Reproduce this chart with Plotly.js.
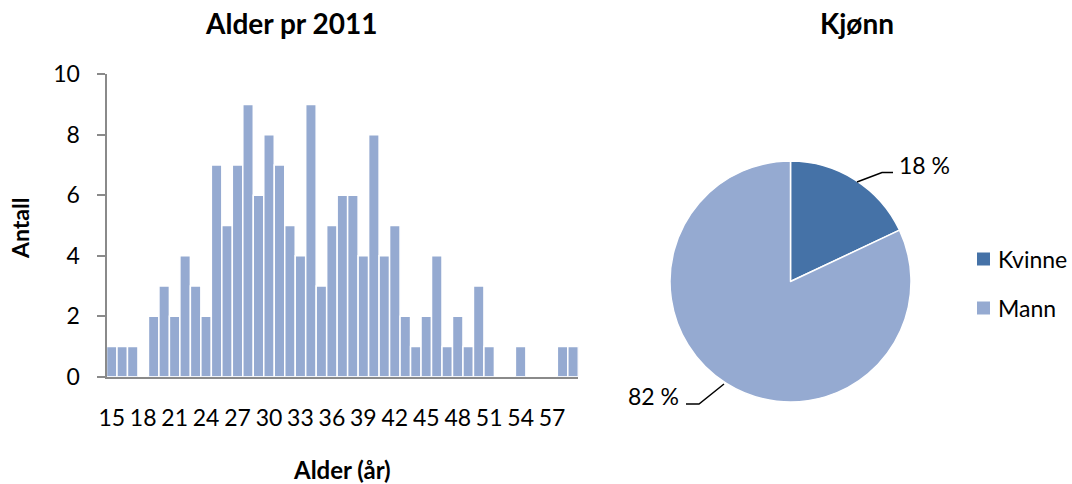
<!DOCTYPE html>
<html>
<head>
<meta charset="utf-8">
<script src="https://cdn.plot.ly/plotly-3.0.1.min.js"></script>
<style>html,body{margin:0;padding:0;background:#fff;}#chart{width:1072px;height:484px;}</style>
</head>
<body>
<div id="chart"></div>
<script>
// ---- data ----
const ages = [15,16,17,18,19,20,21,22,23,24,25,26,27,28,29,30,31,32,33,34,35,36,37,38,39,40,41,42,43,44,45,46,47,48,49,50,51,52,53,54,55,56,57,58,59];
const counts = [1,1,1,0,2,3,2,4,3,2,7,5,7,9,6,8,7,5,4,9,3,5,6,6,4,8,4,5,2,1,2,4,1,2,1,3,1,0,0,1,0,0,0,1,1];
const yTicks = [0,2,4,6,8,10];
const genderLabels = ['Kvinne','Mann'];
const genderValues = [18,82];
const barTitle = 'Alder pr 2011';
const pieTitle = 'Kjønn';
const xTitle = 'Alder (år)';
const yTitle = 'Antall';

// ---- styles ----
const W = 1072, H = 484;
const px = x => x / W;
const py = y => 1 - y / H;
const FONT = 'Lato, "Open Sans", sans-serif';
const LIGHT = '#95AAD1', DARK = '#4572A7';
const pieColors = [DARK, LIGHT];

const total = genderValues.reduce((a,b)=>a+b,0);
const pct = genderValues.map(v => Math.round(v/total*100) + ' %');

const traces = [
  {
    type: 'bar', x: ages, y: counts, xaxis: 'x', yaxis: 'y',
    marker: {color: LIGHT, line: {color: '#ffffff', width: 1.5}},
    hoverinfo: 'x+y', showlegend: false
  },
  {
    type: 'pie', labels: genderLabels, values: genderValues,
    sort: false, direction: 'clockwise', rotation: 0,
    textinfo: 'none', showlegend: false,
    marker: {colors: pieColors, line: {color: '#ffffff', width: 1.5}},
    domain: {x: [px(670), px(911)], y: [py(402), py(161)]}
  }
];

const annotations = [
  {text: '<b>' + barTitle + '</b>', x: px(291), y: py(23), xref:'paper', yref:'paper', showarrow:false, font:{size:28, color:'#000'}, xanchor:'center', yanchor:'middle'},
  {text: '<b>' + pieTitle + '</b>', x: px(857), y: py(23), xref:'paper', yref:'paper', showarrow:false, font:{size:28, color:'#000'}, xanchor:'center', yanchor:'middle'},
  {text: '<b>' + xTitle + '</b>', x: px(342), y: py(469), xref:'paper', yref:'paper', showarrow:false, font:{size:24, color:'#000'}, xanchor:'center', yanchor:'middle'},
  {text: '<b>' + yTitle + '</b>', x: px(20), y: py(229), xref:'paper', yref:'paper', showarrow:false, textangle:-90, font:{size:23, color:'#000'}, xanchor:'center', yanchor:'middle'},
  {text: pct[0], x: px(897), y: py(165), xref:'paper', yref:'paper', showarrow:false, font:{size:23, color:'#000'}, xanchor:'left', yanchor:'middle'},
  {text: pct[1], x: px(681), y: py(396), xref:'paper', yref:'paper', showarrow:false, font:{size:23, color:'#000'}, xanchor:'right', yanchor:'middle'}
];
const shapes = [
  {type:'path', xref:'paper', yref:'paper', path:`M ${px(857)} ${py(182)} L ${px(882)} ${py(172.5)} L ${px(893)} ${py(172.5)}`, line:{color:'#000', width:1.5}},
  {type:'path', xref:'paper', yref:'paper', path:`M ${px(686)} ${py(404)} L ${px(699)} ${py(404)} L ${px(724)} ${py(384)}`, line:{color:'#000', width:1.5}}
];
// manual legend
const legY = [259, 308];
genderLabels.forEach((lab, i) => {
  shapes.push({type:'rect', xref:'paper', yref:'paper', x0:px(977), x1:px(990), y0:py(legY[i]-6.5), y1:py(legY[i]+6.5), fillcolor: pieColors[i], line:{width:0}});
  annotations.push({text: lab, x: px(996), y: py(legY[i]), xref:'paper', yref:'paper', showarrow:false, font:{size:23, color:'#000'}, xanchor:'left', yanchor:'middle'});
});

const layout = {
  width: W, height: H,
  margin: {l:0, r:0, t:0, b:0},
  paper_bgcolor: '#fff', plot_bgcolor: '#fff',
  font: {family: FONT, color: '#000'},
  bargap: 0,
  xaxis: {
    domain: [px(106.5), px(578.3)], anchor: 'y',
    range: [ages[0]-0.5, ages[ages.length-1]+0.5],
    tickmode: 'linear', tick0: ages[0], dtick: 3,
    ticks: '', showgrid: false, zeroline: false,
    showline: true, linecolor: '#8a8a8a', linewidth: 2,
    tickfont: {size: 23, color: '#000'}, ticklabelstandoff: 20,
    fixedrange: true
  },
  yaxis: {
    domain: [py(376.7), py(74.3)], anchor: 'x',
    range: [0, 10], tickvals: yTicks, ticktext: yTicks.map(String),
    ticks: 'outside', ticklen: 8, tickwidth: 2, tickcolor: '#8a8a8a',
    showgrid: false, zeroline: false,
    showline: true, linecolor: '#8a8a8a', linewidth: 2,
    tickfont: {size: 23, color: '#000'}, ticklabelstandoff: 12,
    fixedrange: true
  },
  annotations: annotations,
  shapes: shapes,
  showlegend: false
};

Plotly.newPlot('chart', traces, layout, {displayModeBar: false, staticPlot: true});
</script>
</body>
</html>
